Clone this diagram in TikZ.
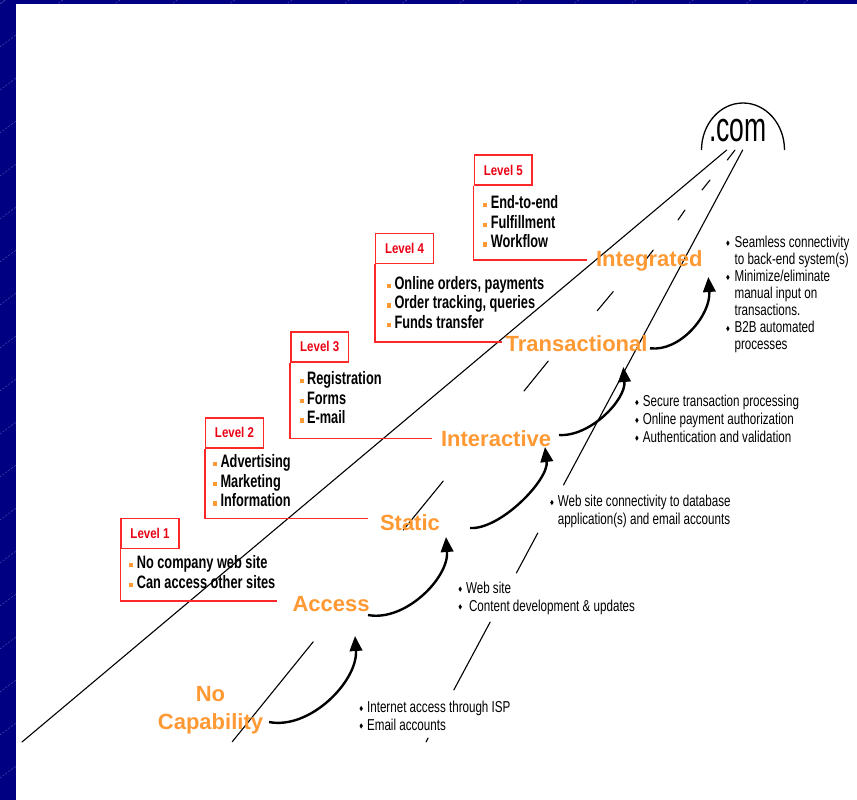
\documentclass[tikz,border=0pt]{standalone}
\usepackage{fontspec}
\setmainfont{Liberation Sans}
\newfontfamily\nfA[FakeStretch=0.735]{Liberation Sans}
\newfontfamily\nfB[FakeStretch=0.71]{Liberation Sans}
\newfontfamily\nfC[FakeStretch=0.81]{Liberation Sans}
\newfontfamily\nfD[FakeStretch=0.64]{Liberation Sans}
\usetikzlibrary{arrows.meta}
\definecolor{navy}{RGB}{0,0,130}
\definecolor{navyline}{RGB}{75,75,175}
\definecolor{orng}{RGB}{255,153,51}
\definecolor{lvred}{RGB}{255,40,40}
\definecolor{lvtxt}{RGB}{235,0,20}
\newcommand\mydia{\raisebox{1.5pt}{\scalebox{0.85}[1.35]{\rotatebox{45}{\rule{2.8pt}{2.8pt}}}}}
\newcommand\notebul{\makebox[7.6pt][l]{\mydia}}
\newcommand\noteind{\hspace*{7.6pt}}
\newcommand\notebulw{\makebox[8.4pt][l]{\mydia}}
\newcommand\noteindw{\hspace*{8.4pt}}
\newcommand\featbul{\makebox[7.6pt][l]{\textcolor{orng}{\rule[1pt]{4pt}{4.5pt}}}}
\begin{document}
\begin{tikzpicture}[x=1pt,y=-1pt,
  roadline/.style={line width=1.1pt,black,line cap=round},
  lvbox/.style={draw=lvred,line width=1.6pt,minimum width=57.7pt,minimum height=30pt,inner sep=0pt,text=lvtxt,font=\nfC\bfseries\fontsize{14.2}{17}\selectfont},
  lvline/.style={draw=lvred,line width=1.6pt},
  stagelbl/.style={text=orng,font=\bfseries\fontsize{22}{28.3}\selectfont,inner sep=0pt,anchor=base west},
  featlist/.style={font=\nfB\bfseries\fontsize{18}{19.7}\selectfont,inner sep=0pt,anchor=base west,align=left},
  notelist/.style={font=\nfA\fontsize{15.8}{17.4}\selectfont,inner sep=0pt,anchor=base west,align=left},
  growarrow/.style={line width=2.4pt,-{Triangle[length=15pt,width=12.5pt]}}
]
% background
\useasboundingbox (0,0) rectangle (857,800);
\fill[navy] (0,0) rectangle (857,800);
\begin{scope}
  \clip (0,0) rectangle (16,800);
  \foreach \k in {-1,...,20} \draw[navyline,line width=0.5pt,dash pattern=on 2pt off 1.5pt] (0,4+43*\k) -- ++(40,-30);
\end{scope}
\begin{scope}
  \clip (0,0) rectangle (857,4);
  \foreach \k in {0,...,16} \draw[navyline,line width=0.5pt,dash pattern=on 2pt off 1.5pt] ({(4+43*\k)/0.75},0) -- ++(-40,30);
\end{scope}
\fill[white] (16,4) rectangle (857,800);

% the road
\draw[roadline] (22,742) -- (726.7,150);
\draw[roadline] (742.7,150) -- (563.5,485);
\draw[roadline] (537.8,533) -- (516.4,573);
\draw[roadline] (490.2,622) -- (453.8,690);
\draw[roadline] (428.1,738) -- (426,742);
\draw[roadline] (735,150) -- (727.3,160);
\draw[roadline] (710,180) -- (702,190);
\draw[roadline] (685,210) -- (678,220);
\draw[roadline] (653.3,250) -- (644.3,261.7);
\draw[roadline] (613.3,291.5) -- (597.3,310.7);
\draw[roadline] (548.3,361) -- (524,391);
\draw[roadline] (443.3,481) -- (403.3,530);
\draw[roadline] (313.3,641.7) -- (232.3,741.7);

% .com
\draw[line width=1.3pt] (701.5,150) arc[start angle=180,end angle=360,x radius=41.5,y radius=47];
\node[font=\nfD\fontsize{41.5}{45}\selectfont,anchor=base west,inner sep=0pt] (dotcom) at (709,141) {.com};

% level boxes
\node[lvbox] (lv5) at (503.3,170) {Level 5};
\node[lvbox] (lv4) at (404.5,248.3) {Level 4};
\node[lvbox] (lv3) at (319.7,346.7) {Level 3};
\node[lvbox] (lv2) at (234.5,432.7) {Level 2};
\node[lvbox] (lv1) at (150,533.3) {Level 1};
\coordinate (e5) at (587,260);
\coordinate (e4) at (501.7,341.7);
\coordinate (e3) at (431.7,438.3);
\coordinate (e2) at (368,518.3);
\coordinate (e1) at (276.7,600.7);
\draw[lvline] (lv5.south west) |- (e5);
\draw[lvline] (lv4.south west) |- (e4);
\draw[lvline] (lv3.south west) |- (e3);
\draw[lvline] (lv2.south west) |- (e2);
\draw[lvline] (lv1.south west) |- (e1);

% features (anchor = baseline of last line)
\node[featlist] (f5) at (483,247.7) {\featbul End-to-end\\\featbul Fulfillment\\\featbul Workflow};
\node[featlist] (f4) at (386.7,328.4) {\featbul Online orders, payments\\\featbul Order tracking, queries\\\featbul Funds transfer};
\node[featlist] (f3) at (299.3,423.7) {\featbul Registration\\\featbul Forms\\\featbul E-mail};
\node[featlist] (f2) at (212.7,506.7) {\featbul Advertising\\\featbul Marketing\\\featbul Information};
\node[featlist] (f1) at (129,588) {\featbul No company web site\\\featbul Can access other sites};

% stages
\node[stagelbl] (integ) at (595.9,266.7) {Integrated};
\node[stagelbl] (trans) at (505.5,351.5) {Transactional};
\node[stagelbl] (inter) at (440.9,446.7) {Interactive};
\node[stagelbl] (stat) at (379.8,530) {Static};
\node[stagelbl] (acc) at (292.3,611) {Access};
\node[stagelbl,anchor=base,align=center] (nocap) at (210.5,729.3) {No\\Capability};

% notes (anchor = baseline of last line)
\node[notelist,font=\nfA\fontsize{15.8}{17.1}\selectfont] (n5) at (726,349.9) {\notebulw Seamless connectivity\\\noteindw to back-end system(s)\\\notebulw Minimize/eliminate\\\noteindw manual input on\\\noteindw transactions.\\\notebulw B2B automated\\\noteindw processes};
\node[notelist,font=\nfA\fontsize{15.8}{17.8}\selectfont] (n4) at (635,442.3) {\notebul Secure transaction processing\\\notebul Online payment authorization\\\notebul Authentication and validation};
\node[notelist,font=\nfA\fontsize{15.8}{17.6}\selectfont] (n3) at (550,524.3) {\notebul Web site connectivity to database\\\noteind application(s) and email accounts};
\node[notelist,font=\nfA\fontsize{15.8}{17.7}\selectfont] (n2) at (458.3,611) {\notebul Web site\\\notebul\hspace{3pt}Content development \& updates};
\node[notelist] (n1) at (359.3,730.1) {\notebul Internet access through ISP\\\notebul Email accounts};

% growth arrows
\coordinate (a1s) at (269,722);  \coordinate (a1e) at (355,636);
\coordinate (a2s) at (368,615);  \coordinate (a2e) at (446,537);
\coordinate (a3s) at (470,528);  \coordinate (a3e) at (545,447);
\coordinate (a4s) at (559,435);  \coordinate (a4e) at (623.3,367);
\coordinate (a5s) at (650,348.3);\coordinate (a5e) at (708.3,277);
\draw[growarrow] (a1s) .. controls (310,730) and (358,681) .. (a1e);
\draw[growarrow] (a2s) .. controls (405,622) and (449,578) .. (a2e);
\draw[growarrow] (a3s) .. controls (500,530) and (549,480) .. (a3e);
\draw[growarrow] (a4s) .. controls (590,437) and (626,400) .. (a4e);
\draw[growarrow] (a5s) .. controls (680,352) and (711,315) .. (a5e);
\end{tikzpicture}
\end{document}
